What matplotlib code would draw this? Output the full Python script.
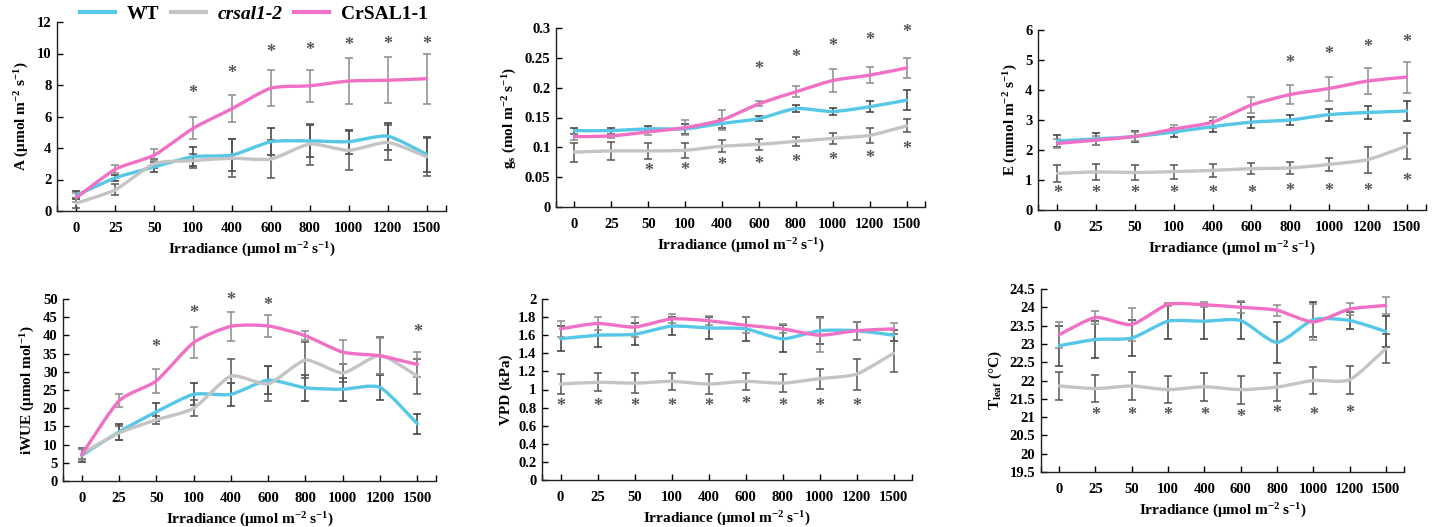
import numpy as np
import matplotlib
matplotlib.use("Agg")
import matplotlib.pyplot as plt
from matplotlib.path import Path
from matplotlib.patches import PathPatch
from matplotlib.lines import Line2D
from matplotlib.ticker import FuncFormatter

plt.rcParams['font.family'] = ['Liberation Serif', 'DejaVu Serif']
plt.rcParams['font.weight'] = 'bold'
plt.rcParams['mathtext.fontset'] = 'custom'
plt.rcParams['mathtext.rm'] = 'Liberation Serif:bold'
plt.rcParams['mathtext.it'] = 'Liberation Serif:italic:bold'
plt.rcParams['mathtext.bf'] = 'Liberation Serif:bold'

categories = ['0', '25', '50', '100', '400', '600', '800', '1000', '1200', '1500']
series_names = ['WT', 'crsal1-2', 'CrSAL1-1']

# Panel A
A_wt = [1.0, 2.1, 2.8, 3.45, 3.55, 4.4, 4.45, 4.4, 4.75, 3.6]
A_wt_err = [0.25, 0.2, 0.3, 0.6, 1.0, 0.85, 1.0, 0.75, 0.85, 1.1]
A_cr = [0.5, 1.35, 3.0, 3.2, 3.35, 3.3, 4.25, 3.85, 4.35, 3.45]
A_cr_err = [0.3, 0.35, 0.3, 0.45, 1.2, 1.2, 1.3, 1.25, 1.1, 1.2]
A_oe = [0.85, 2.65, 3.55, 5.25, 6.5, 7.8, 7.95, 8.25, 8.3, 8.4]
A_oe_err = [0.3, 0.25, 0.4, 0.7, 0.85, 1.15, 1.0, 1.45, 1.45, 1.6]
A_star_x = [3, 4, 5, 6, 7, 8, 9]
A_star_y = [7.45, 8.7, 10.05, 10.2, 10.5, 10.55, 10.6]

# Panel gs
gs_wt = [0.128, 0.128, 0.131, 0.131, 0.140, 0.148, 0.165, 0.160, 0.168, 0.179]
gs_wt_err = [0.005, 0.005, 0.004, 0.008, 0.008, 0.004, 0.006, 0.006, 0.009, 0.017]
gs_cr = [0.092, 0.094, 0.094, 0.095, 0.102, 0.105, 0.110, 0.115, 0.120, 0.136]
gs_cr_err = [0.016, 0.015, 0.014, 0.013, 0.010, 0.009, 0.008, 0.009, 0.012, 0.011]
gs_oe = [0.118, 0.119, 0.126, 0.133, 0.146, 0.173, 0.193, 0.212, 0.221, 0.233]
gs_oe_err = [0.005, 0.004, 0.005, 0.013, 0.017, 0.004, 0.009, 0.020, 0.014, 0.016]
gs_star_x = [5, 6, 7, 8, 9, 2, 3, 4, 5, 6, 7, 8, 9]
gs_star_y = [0.230, 0.251, 0.269, 0.279, 0.292, 0.060, 0.061, 0.070, 0.071, 0.074, 0.078, 0.081, 0.097]

# Panel E
E_wt = [2.30, 2.37, 2.45, 2.60, 2.78, 2.93, 3.00, 3.18, 3.25, 3.30]
E_wt_err = [0.20, 0.20, 0.18, 0.15, 0.18, 0.18, 0.18, 0.20, 0.22, 0.33]
E_cr = [1.22, 1.27, 1.25, 1.28, 1.32, 1.38, 1.40, 1.52, 1.68, 2.13]
E_cr_err = [0.28, 0.26, 0.26, 0.23, 0.22, 0.18, 0.20, 0.22, 0.43, 0.44]
E_oe = [2.22, 2.33, 2.45, 2.70, 2.93, 3.50, 3.85, 4.05, 4.30, 4.43]
E_oe_err = [0.15, 0.15, 0.15, 0.12, 0.18, 0.28, 0.33, 0.40, 0.43, 0.52]
E_star_x = [6, 7, 8, 9, 0, 1, 2, 3, 4, 5, 6, 7, 8, 9]
E_star_y = [4.89, 5.19, 5.41, 5.58, 0.56, 0.56, 0.56, 0.56, 0.56, 0.56, 0.63, 0.63, 0.63, 0.94]

# Panel iWUE
W_wt = [7.0, 13.5, 19.0, 23.8, 23.8, 27.7, 25.6, 25.2, 25.7, 15.7]
W_wt_err = [1.8, 2.2, 2.4, 3.0, 3.2, 3.8, 3.5, 3.2, 3.4, 2.8]
W_cr = [7.5, 13.2, 16.8, 20.0, 28.8, 26.7, 33.2, 29.7, 34.5, 28.8]
W_cr_err = [1.5, 2.0, 1.1, 2.2, 4.8, 4.8, 5.0, 2.5, 5.0, 4.8]
W_oe = [7.2, 22.0, 27.5, 38.0, 42.5, 42.6, 39.9, 35.4, 34.4, 32.0]
W_oe_err = [1.5, 1.8, 3.2, 4.2, 4.0, 3.0, 1.3, 3.3, 5.0, 3.5]
W_star_x = [2, 3, 4, 5, 9]
W_star_y = [36.7, 46.0, 49.5, 48.3, 40.9]

# Panel VPD
V_wt = [1.56, 1.60, 1.61, 1.70, 1.68, 1.67, 1.56, 1.65, 1.65, 1.60]
V_wt_err = [0.14, 0.13, 0.12, 0.10, 0.12, 0.13, 0.15, 0.15, 0.10, 0.06]
V_cr = [1.06, 1.08, 1.07, 1.09, 1.06, 1.09, 1.07, 1.12, 1.17, 1.40]
V_cr_err = [0.11, 0.10, 0.11, 0.09, 0.11, 0.09, 0.10, 0.11, 0.17, 0.21]
V_oe = [1.67, 1.73, 1.69, 1.78, 1.76, 1.71, 1.67, 1.60, 1.65, 1.67]
V_oe_err = [0.09, 0.07, 0.11, 0.05, 0.05, 0.09, 0.05, 0.19, 0.10, 0.06]
V_star_x = [0, 1, 2, 3, 4, 5, 6, 7, 8]
V_star_y = [0.81, 0.81, 0.81, 0.81, 0.81, 0.83, 0.81, 0.81, 0.81]

# Panel Tleaf
T_wt = [22.95, 23.12, 23.16, 23.62, 23.62, 23.64, 23.04, 23.66, 23.64, 23.34]
T_wt_err = [0.55, 0.50, 0.50, 0.48, 0.48, 0.50, 0.57, 0.48, 0.22, 0.42]
T_cr = [21.85, 21.78, 21.85, 21.75, 21.83, 21.75, 21.82, 22.00, 22.02, 22.87]
T_cr_err = [0.38, 0.38, 0.38, 0.37, 0.38, 0.38, 0.38, 0.37, 0.38, 0.40]
T_oe = [23.25, 23.72, 23.53, 24.08, 24.07, 24.00, 23.92, 23.60, 23.95, 24.05]
T_oe_err = [0.35, 0.17, 0.45, 0.05, 0.07, 0.16, 0.15, 0.50, 0.17, 0.22]
T_star_x = [1, 2, 3, 4, 5, 6, 7, 8]
T_star_y = [21.05, 21.05, 21.05, 21.05, 20.98, 21.10, 21.05, 21.10]

C_WT = '#56C7E6'
C_CR = '#C4C4C4'
C_OE = '#F070C6'
E_WT = '#3a3a3a'
E_CR = '#555555'
E_OE = '#8c8c8c'

W, H = 1440, 527
fig = plt.figure(figsize=(W / 100, H / 100), dpi=100)


def axes_px(left, right, top, bottom):
    return fig.add_axes([left / W, 1 - bottom / H, (right - left) / W, (bottom - top) / H])


def smooth_path(x, y, k=0.11):
    x = np.asarray(x, float)
    y = np.asarray(y, float)
    n = len(x)
    px = np.concatenate([[x[0]], x, [x[-1]]])
    py = np.concatenate([[y[0]], y, [y[-1]]])
    verts = [(x[0], y[0])]
    codes = [Path.MOVETO]
    for i in range(n - 1):
        j = i + 1
        c1 = (px[j] + (px[j + 1] - px[j - 1]) * k, py[j] + (py[j + 1] - py[j - 1]) * k)
        c2 = (px[j + 1] - (px[j + 2] - px[j]) * k, py[j + 1] - (py[j + 2] - py[j]) * k)
        verts += [c1, c2, (x[j], y[j])]
        codes += [Path.CURVE4] * 3
    return Path(verts, codes)


def fmt(v, pos):
    return '%g' % round(v, 4)


def panel(box, series, ylim, ystep, ylabel, stars_x, stars_y):
    ax = axes_px(*box)
    x = np.arange(len(categories))
    for (vals, errs, col, ecol) in series:
        ax.errorbar(x, vals, yerr=errs, fmt='none', ecolor=ecol, elinewidth=1.1,
                    capsize=3, capthick=1.1, zorder=2)
    for (vals, errs, col, ecol) in series:
        ax.add_patch(PathPatch(smooth_path(x, vals), fill=False, edgecolor=col,
                               lw=2.4, zorder=3, capstyle='round'))
    for sx, sy in zip(stars_x, stars_y):
        ax.text(sx, sy, '*', ha='center', va='center', fontsize=13,
                color='#555555', fontweight='bold')
    ax.set_xlim(-0.5, 9.5)
    ax.set_ylim(*ylim)
    ax.set_yticks(np.arange(ylim[0], ylim[1] + ystep / 2, ystep))
    ax.yaxis.set_major_formatter(FuncFormatter(fmt))
    ax.set_xticks(x)
    ax.set_xticks([-0.5, 9.5], minor=True)
    ax.set_xticklabels(categories)
    for s in ['top', 'right']:
        ax.spines[s].set_visible(False)
    for s in ['left', 'bottom']:
        ax.spines[s].set_linewidth(1.0)
        ax.spines[s].set_color('#222222')
    ax.tick_params(axis='y', direction='in', length=4, width=1, labelsize=10.5, pad=4)
    ax.tick_params(axis='x', which='both', direction='in', length=4, width=1,
                   labelsize=10.5, pad=8)
    for lab in ax.get_xticklabels() + ax.get_yticklabels():
        lab.set_fontweight('bold')
    ax.set_xlabel('Irradiance (μmol m$^{-2}$ s$^{-1}$)', fontsize=11, fontweight='bold',
                  labelpad=4)
    ax.set_ylabel(ylabel, fontsize=11, fontweight='bold', labelpad=4)
    return ax


def mk(wt, wte, cr, cre, oe, oee):
    return [(wt, wte, C_WT, E_WT), (cr, cre, C_CR, E_CR), (oe, oee, C_OE, E_OE)]


panel((57, 446, 22, 211), mk(A_wt, A_wt_err, A_cr, A_cr_err, A_oe, A_oe_err),
      (0, 12), 2, 'A (μmol m$^{-2}$ s$^{-1}$)', A_star_x, A_star_y)
panel((556, 925, 28, 207), mk(gs_wt, gs_wt_err, gs_cr, gs_cr_err, gs_oe, gs_oe_err),
      (0, 0.3), 0.05, 'g$_{\\mathrm{s}}$ (mol m$^{-2}$ s$^{-1}$)', gs_star_x, gs_star_y)
panel((1038, 1426, 30, 210), mk(E_wt, E_wt_err, E_cr, E_cr_err, E_oe, E_oe_err),
      (0, 6), 1, 'E (mmol m$^{-2}$ s$^{-1}$)', E_star_x, E_star_y)
panel((63, 436, 299, 481), mk(W_wt, W_wt_err, W_cr, W_cr_err, W_oe, W_oe_err),
      (0, 50), 5, 'iWUE (μmol mol$^{-1}$)', W_star_x, W_star_y)
panel((542, 912, 299, 480), mk(V_wt, V_wt_err, V_cr, V_cr_err, V_oe, V_oe_err),
      (0, 2), 0.2, 'VPD (kPa)', V_star_x, V_star_y)
panel((1041, 1404, 289, 472), mk(T_wt, T_wt_err, T_cr, T_cr_err, T_oe, T_oe_err),
      (19.5, 24.5), 0.5, 'T$_{\\mathrm{leaf}}$ (°C)', T_star_x, T_star_y)

handles = [Line2D([], [], color=c, lw=3) for c in (C_WT, C_CR, C_OE)]
leg = fig.legend(handles, series_names, loc='center', bbox_to_anchor=(254 / W, 1 - 14 / H),
                 ncol=3, frameon=False, handlelength=1.8, handletextpad=0.6,
                 columnspacing=0.6, borderpad=0.2,
                 prop={'family': 'Liberation Serif', 'weight': 'bold', 'size': 14})
leg.get_texts()[1].set_fontstyle('italic')

fig.savefig('out.png', dpi=100)
